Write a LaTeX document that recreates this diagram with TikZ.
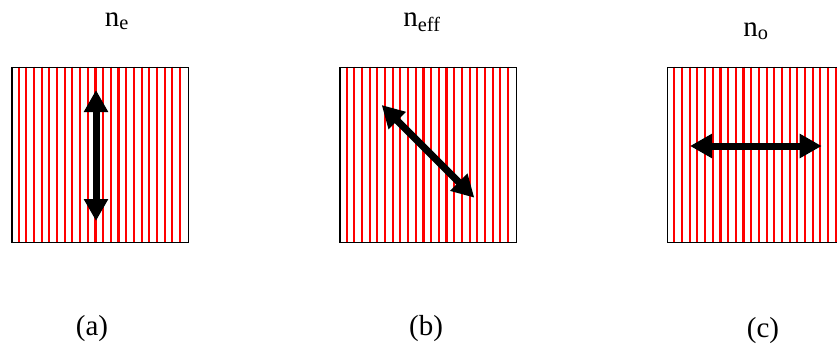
\documentclass[tikz,border=0pt]{standalone}
\usepackage{fontspec}
\setmainfont{Liberation Serif}
\usetikzlibrary{arrows.meta}
\tikzset{
  frame/.style={draw=black, line width=1.6pt},
  stripe/.style={draw=red, line width=2.1pt},
  pol/.style={line width=7pt, {Triangle[width=23pt,length=22pt]}-{Triangle[width=23pt,length=22pt]}},
  lab/.style={font=\fontsize{29}{29}\selectfont, inner sep=0pt, anchor=base},
}
\newcommand{\stripebox}[3]{%
  \begin{scope}
    \clip (#1,66.7) rectangle (#1+176.7,241.5);
    \foreach \k in {1,...,22} {
      \draw[stripe] (#1+\k*7.68,66.7) -- (#1+\k*7.68,241.5);
    }
  \end{scope}
  \node[frame, minimum width=176.7pt, minimum height=174.8pt, inner sep=0pt, anchor=north west] (#2) at (#1,66.7) {};
}
\begin{document}
\begin{tikzpicture}[x=1pt,y=-1pt]
\useasboundingbox (0,0) rectangle (837,346);
\clip (0,0) rectangle (837,346);
\stripebox{11}{boxa}{}
\stripebox{339}{boxb}{}
\stripebox{666.7}{boxc}{}
% polarization arrows
\coordinate (a1) at (96,90);
\coordinate (a2) at (96,221);
\draw[pol] (a1) -- (a2);
\coordinate (b1) at (381.7,105);
\coordinate (b2) at (474.3,197.7);
\draw[pol] (b1) -- (b2);
\coordinate (c1) at (690,146);
\coordinate (c2) at (821.7,146);
\draw[pol] (c1) -- (c2);
% labels
\node[lab] (ne) at (117,26) {n\textsubscript{e}};
\node[lab] (neff) at (422,26) {n\textsubscript{eff}};
\node[lab] (no) at (756,36) {n\textsubscript{o}};
\node[lab] (la) at (92,335) {(a)};
\node[lab] (lb) at (426,335) {(b)};
\node[lab] (lc) at (763,337) {(c)};
\end{tikzpicture}
\end{document}
